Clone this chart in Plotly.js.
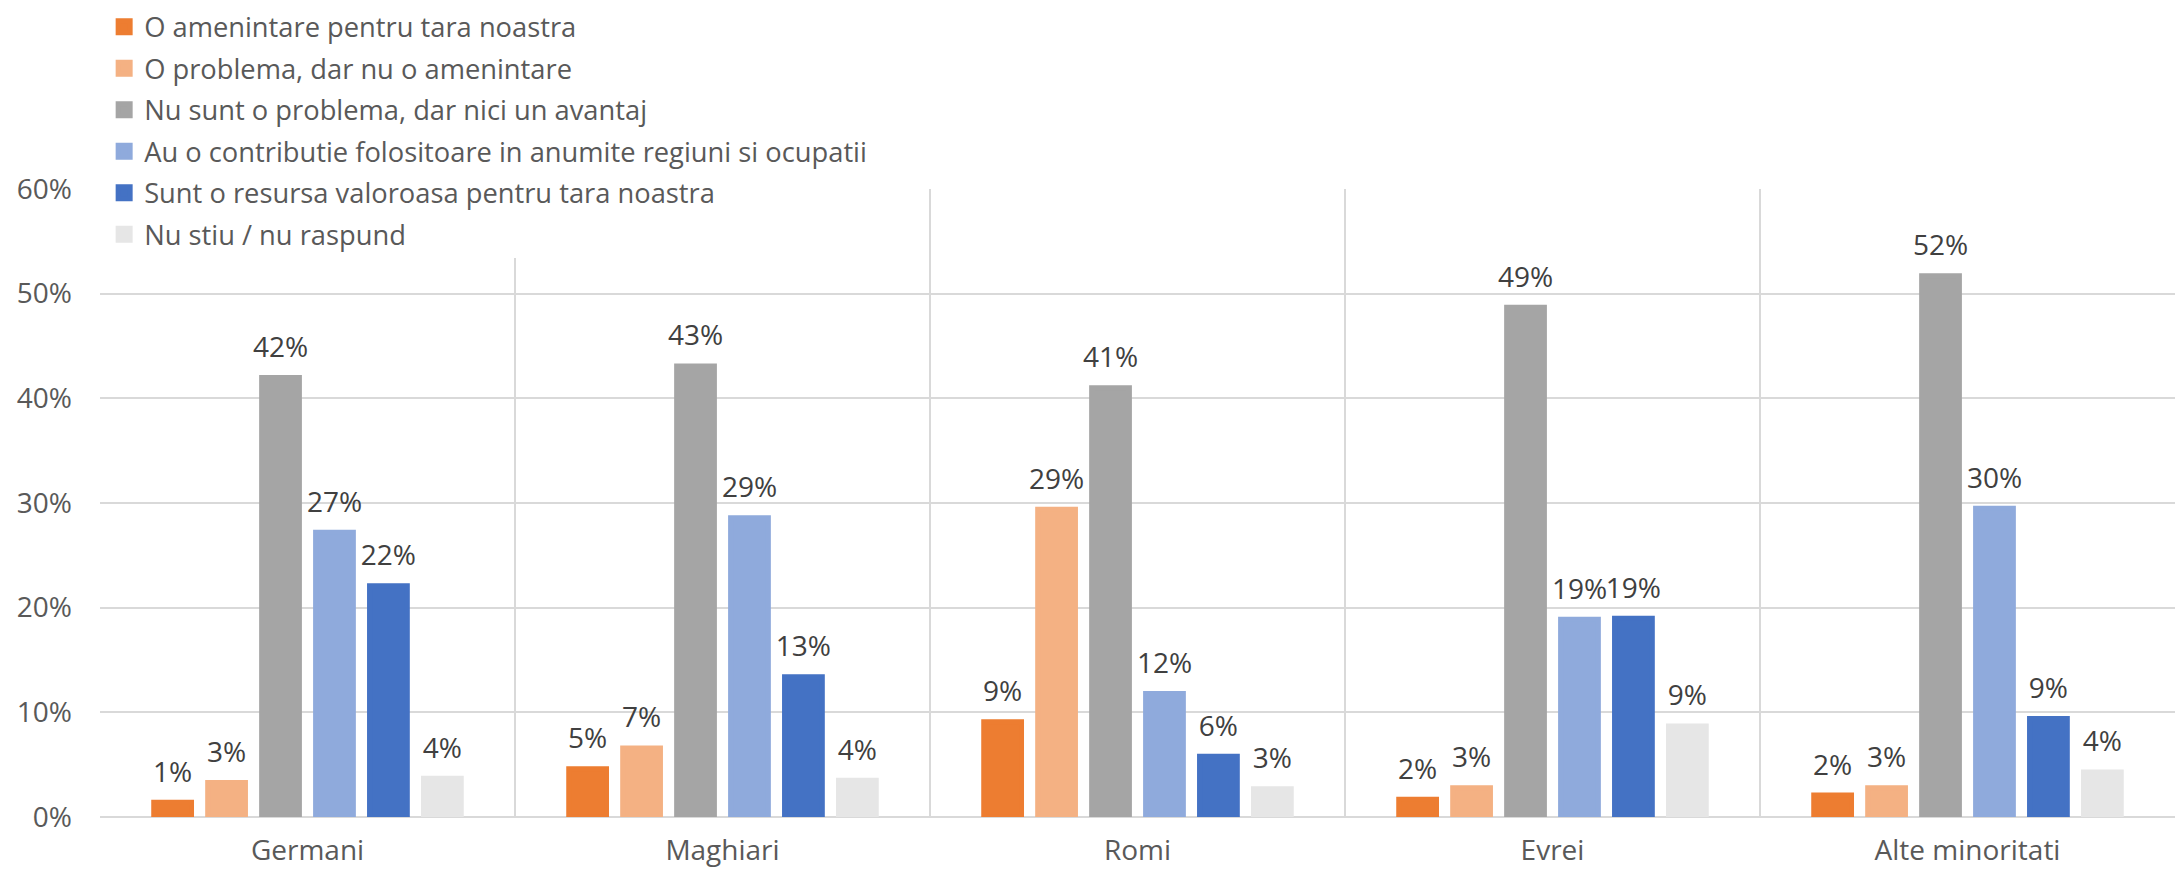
<!DOCTYPE html>
<html>
<head>
<meta charset="utf-8">
<script src="https://cdn.plot.ly/plotly-3.0.1.min.js"></script>
<style>html,body{margin:0;padding:0;background:#fff;}#chart{width:2178px;height:871px;}</style>
</head>
<body>
<div id="chart"></div>
<script>
const categories = ["Germani", "Maghiari", "Romi", "Evrei", "Alte minoritati"];
const seriesNames = [
  "O amenintare pentru tara noastra",
  "O problema, dar nu o amenintare",
  "Nu sunt o problema, dar nici un avantaj",
  "Au o contributie folositoare in anumite regiuni si ocupatii",
  "Sunt o resursa valoroasa pentru tara noastra",
  "Nu stiu / nu raspund"
];
const amenintare = [1.4, 4.6, 9.1, 1.7, 2.1];
const problema = [3.3, 6.6, 29.4, 2.8, 2.8];
const neutru = [42.0, 43.1, 41.0, 48.7, 51.7];
const contributie = [27.2, 28.6, 11.8, 18.9, 29.5];
const resursa = [22.1, 13.4, 5.8, 19.0, 9.4];
const nuStiu = [3.7, 3.5, 2.7, 8.7, 4.3];
const yTicks = [0, 10, 20, 30, 40, 50, 60];

const colors = ["#ED7D31", "#F4B183", "#A5A5A5", "#8FAADC", "#4472C4", "#E6E6E6"];
const allValues = [amenintare, problema, neutru, contributie, resursa, nuStiu];
const FONT = "Open Sans, sans-serif";
const GAP = 0.22;

const barTraces = allValues.map((vals, i) => ({
  type: "bar",
  name: seriesNames[i],
  legendgroup: "s" + i,
  x: categories,
  y: vals,
  marker: {color: colors[i], line: {width: 5, color: colors[i]}},
  hoverinfo: "skip"
}));

const labelTraces = allValues.map((vals, i) => ({
  type: "scatter",
  mode: "markers+text",
  orientation: "v",
  x: categories,
  y: vals,
  text: vals.map(v => Math.round(v) + "%"),
  textposition: "top center",
  textfont: {family: FONT, size: 28, color: "#404040"},
  marker: {size: 20, opacity: 0, color: colors[i]},
  showlegend: false,
  cliponaxis: false,
  hoverinfo: "skip"
}));

const layout = {
  width: 2178,
  height: 871,
  paper_bgcolor: "#fff",
  plot_bgcolor: "#fff",
  font: {family: FONT, size: 28, color: "#595959"},
  margin: {l: 100, r: 3, t: 187, b: 54, pad: 0},
  barmode: "group",
  bargap: GAP,
  bargroupgap: 0.3,
  scattermode: "group",
  scattergap: GAP,
  showlegend: true,
  legend: {
    x: 0.002, xanchor: "left",
    y: 1.297, yanchor: "top",
    bgcolor: "#ffffff",
    font: {family: FONT, size: 27.3, color: "#595959"},
    tracegroupgap: 3,
    itemwidth: 30,
    traceorder: "grouped"
  },
  xaxis: {
    type: "category",
    tickson: "boundaries",
    showgrid: true,
    gridcolor: "#D9D9D9",
    gridwidth: 2,
    ticks: "",
    showline: false,
    zeroline: false,
    ticklabelstandoff: 14,
    tickfont: {family: FONT, size: 28, color: "#595959"}
  },
  yaxis: {
    range: [0, 60],
    tickvals: yTicks,
    ticktext: yTicks.map(v => v + "%"),
    showgrid: true,
    gridcolor: "#D9D9D9",
    gridwidth: 2,
    zeroline: true,
    zerolinecolor: "#D9D9D9",
    zerolinewidth: 2,
    showline: false,
    ticks: "",
    ticklabelstandoff: 27,
    tickfont: {family: FONT, size: 28, color: "#595959"}
  }
};

Plotly.newPlot("chart", barTraces.concat(labelTraces), layout, {staticPlot: true});
</script>
</body>
</html>
